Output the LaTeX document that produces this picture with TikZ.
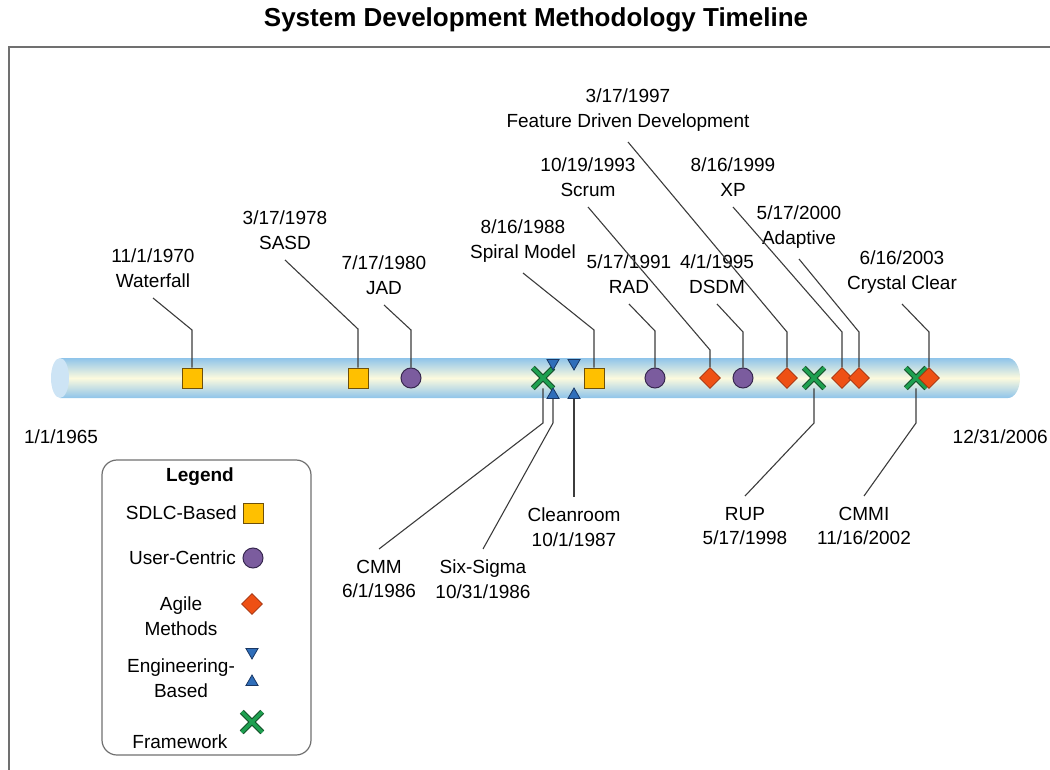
\documentclass[tikz,border=0pt]{standalone}
\usepackage{fontspec}
\setmainfont{Liberation Sans}
\usetikzlibrary{shapes.geometric,shapes.misc}

\definecolor{sdlcfill}{RGB}{255,192,0}
\definecolor{sdlcline}{RGB}{110,80,10}
\definecolor{userfill}{RGB}{123,92,158}
\definecolor{userline}{RGB}{55,40,80}
\definecolor{agilefill}{RGB}{238,80,20}
\definecolor{agileline}{RGB}{160,50,15}
\definecolor{engfill}{RGB}{47,110,186}
\definecolor{engline}{RGB}{25,55,100}
\definecolor{fwfill}{RGB}{30,160,80}
\definecolor{fwline}{RGB}{20,80,40}
\definecolor{barblue}{RGB}{143,196,234}
\definecolor{barcream}{RGB}{252,250,222}
\definecolor{barcap}{RGB}{205,228,245}
\definecolor{conngray}{RGB}{60,60,60}
\definecolor{framegray}{RGB}{112,112,112}

\begin{document}
\begin{tikzpicture}[x=1pt,y=-1pt,
    every node/.style={font=\fontsize{19}{24.5}\selectfont},
    sdlc/.style={rectangle,draw=sdlcline,fill=sdlcfill,line width=1pt,minimum size=20pt,inner sep=0pt},
    user/.style={circle,draw=userline,fill=userfill,line width=1pt,minimum size=20pt,inner sep=0pt},
    agile/.style={diamond,draw=agileline,fill=agilefill,line width=0.6pt,minimum size=21pt,inner sep=0pt},
    engdown/.style={regular polygon,regular polygon sides=3,shape border rotate=180,draw=engline,fill=engfill,line width=0.8pt,minimum size=14pt,inner sep=0pt},
    engup/.style={regular polygon,regular polygon sides=3,draw=engline,fill=engfill,line width=0.8pt,minimum size=14pt,inner sep=0pt},
    framework/.style={cross out,draw=fwline,line width=5.5pt,minimum size=15pt,inner sep=0pt,postaction={draw=fwfill,line width=3.2pt}},
    uplbl/.style={align=center,anchor=south,inner xsep=2pt,inner ysep=10.5pt},
    downlbl/.style={align=center,anchor=north,inner xsep=2pt,inner ysep=11pt},
    conn/.style={draw=conngray,line width=1.1pt}]

    \useasboundingbox (0,0) rectangle (1050,770);

    % Title and frame
    \node[font=\fontsize{26}{30}\selectfont\bfseries] (title) at (536,20) {System Development Methodology Timeline};
    \draw[framegray,line width=1.8pt] (1060,47) -- (9,47) -- (9,780);

    % Timeline bar
    \shade[top color=barblue,bottom color=barblue,middle color=barcream]
        (60,358) -- (1008,358) arc[start angle=-90,end angle=90,x radius=12,y radius=20] -- (60,398) -- cycle;
    \fill[barcap] (60,378) ellipse[x radius=9,y radius=20];
    \node (start) at (61,437) {1/1/1965};
    \node[anchor=east,inner sep=0pt] (finish) at (1048,437) {12/31/2006};

    % Define markers
    \node[sdlc] (waterfall) at (192,378) {};
    \node[sdlc] (sasd) at (358,378) {};
    \node[user] (jad) at (411,378) {};
    \node[framework] (cmm) at (543,378) {};
    \node[engdown] (sixsigmaD) at (553,363) {};
    \node[engup] (sixsigmaU) at (553,395) {};
    \node[engdown] (cleanD) at (574,363) {};
    \node[engup] (cleanU) at (574,395) {};
    \node[sdlc] (spiral) at (594,378) {};
    \node[user] (rad) at (655,378) {};
    \node[agile] (scrum) at (710,378) {};
    \node[user] (dsdm) at (743,378) {};
    \node[agile] (fdd) at (787,378) {};
    \node[framework] (rup) at (814,378) {};
    \node[agile] (xp) at (842,378) {};
    \node[agile] (adaptive) at (859,378) {};
    \node[framework] (cmmi) at (916,378) {};
    \node[agile] (crystal) at (929,378) {};

    % Define labels
    \node[uplbl] (lwaterfall) at (153,298) {11/1/1970\\Waterfall};
    \node[uplbl] (lsasd) at (285,260) {3/17/1978\\SASD};
    \node[uplbl] (ljad) at (384,305) {7/17/1980\\JAD};
    \node[uplbl] (lspiral) at (523,273) {8/16/1988\\Spiral Model};
    \node[uplbl] (lrad) at (629,304) {5/17/1991\\RAD};
    \node[uplbl] (lscrum) at (588,207) {10/19/1993\\Scrum};
    \node[uplbl] (ldsdm) at (717,304) {4/1/1995\\DSDM};
    \node[uplbl] (lfdd) at (628,142) {3/17/1997\\Feature Driven Development};
    \node[uplbl] (lxp) at (733,207) {8/16/1999\\XP};
    \node[uplbl] (ladaptive) at (799,259) {5/17/2000\\Adaptive};
    \node[uplbl] (lcrystal) at (902,304) {6/16/2003\\Crystal Clear};
    \node[downlbl] (lcmm) at (379,549) {CMM\\6/1/1986};
    \node[downlbl] (lsixsigma) at (483,549) {Six-Sigma\\10/31/1986};
    \node[downlbl] (lclean) at (574,497) {Cleanroom\\10/1/1987};
    \node[downlbl] (lrup) at (745,496) {RUP\\5/17/1998};
    \node[downlbl] (lcmmi) at (864,496) {CMMI\\11/16/2002};

    % Draw connectors
    \draw[conn] (waterfall.north) -- (waterfall |- 0,330) -- (lwaterfall.south);
    \draw[conn] (sasd.north) -- (sasd |- 0,329) -- (lsasd.south);
    \draw[conn] (jad.north) -- (jad |- 0,330) -- (ljad.south);
    \draw[conn] (spiral.north) -- (spiral |- 0,330) -- (lspiral.south);
    \draw[conn] (rad.north) -- (rad |- 0,331) -- (lrad.south);
    \draw[conn] (scrum.north) -- (scrum |- 0,350) -- (lscrum.south);
    \draw[conn] (dsdm.north) -- (dsdm |- 0,332) -- (ldsdm.south);
    \draw[conn] (fdd.north) -- (fdd |- 0,332) -- (lfdd.south);
    \draw[conn] (xp.north) -- (xp |- 0,332) -- (lxp.south);
    \draw[conn] (adaptive.north) -- (adaptive |- 0,332) -- (ladaptive.south);
    \draw[conn] (crystal.north) -- (crystal |- 0,332) -- (lcrystal.south);
    \draw[conn] (cmm.south) -- (cmm |- 0,423) -- (lcmm.north);
    \draw[conn] (sixsigmaU.south) -- (sixsigmaU |- 0,423) -- (lsixsigma.north);
    \draw[conn] (cleanU.south) -- (lclean.north);
    \draw[conn] (rup.south) -- (rup |- 0,423) -- (lrup.north);
    \draw[conn] (cmmi.south) -- (cmmi |- 0,423) -- (lcmmi.north);

    % Legend
    \draw[framegray,line width=1.2pt,rounded corners=15pt] (102,460) rectangle (311,755);
    \node[font=\fontsize{19}{24}\selectfont\bfseries] (legtitle) at (200,477) {Legend};
    \node[anchor=east,inner sep=0pt] (legsdlctxt) at (237,513) {SDLC-Based};
    \node[sdlc] (legsdlc) at (253,513) {};
    \node[anchor=east,inner sep=0pt] (legusertxt) at (236,558) {User-Centric};
    \node[user] (leguser) at (253,558) {};
    \node[align=center,inner sep=0pt] (legagiletxt) at (181,616) {Agile\\Methods};
    \node[agile] (legagile) at (252,604) {};
    \node[align=center,inner sep=0pt] (legengtxt) at (181,678) {Engineering-\\Based};
    \node[engdown] (legengD) at (252,652) {};
    \node[engup] (legengU) at (252,682) {};
    \node[inner sep=0pt] (legfwtxt) at (180,742) {Framework};
    \node[framework] (legfw) at (252,722) {};

\end{tikzpicture}
\end{document}
